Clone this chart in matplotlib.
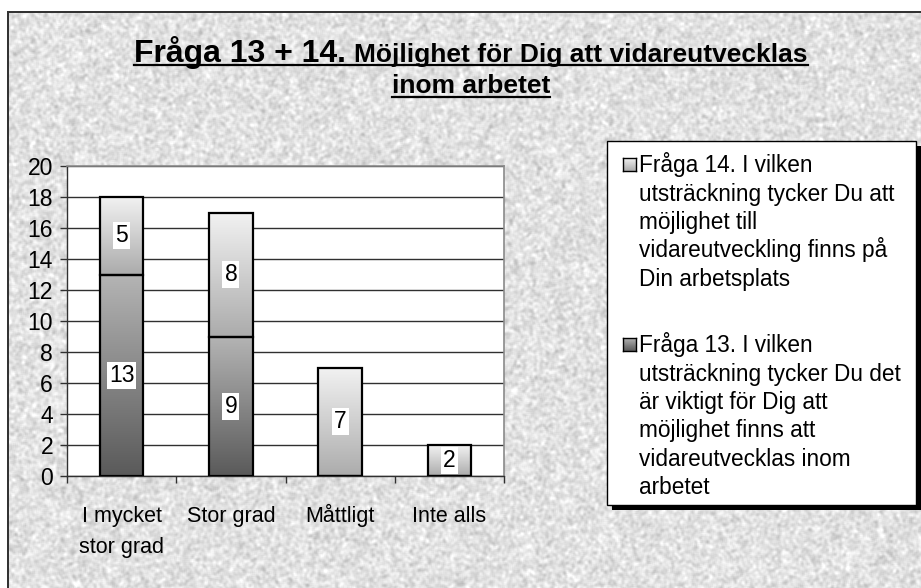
import numpy as np
import matplotlib
matplotlib.use('Agg')
import matplotlib.pyplot as plt
from matplotlib.patches import Rectangle
from matplotlib.lines import Line2D
from matplotlib.colors import LinearSegmentedColormap
from matplotlib.transforms import blended_transform_factory

#### data ####
categories = ['I mycket\nstor grad', 'Stor grad', 'Måttligt', 'Inte alls']
fraga13 = [13, 9, 0, 0]
fraga14 = [5, 8, 7, 2]
yticks = list(range(0, 21, 2))

title_a = 'Fråga 13 + 14.'
title_b = 'Möjlighet för Dig att vidareutvecklas'
title_c = 'inom arbetet'
legend_14 = ['Fråga 14. I vilken', 'utsträckning tycker Du att', 'möjlighet till',
             'vidareutveckling finns på', 'Din arbetsplats']
legend_13 = ['Fråga 13. I vilken', 'utsträckning tycker Du det', 'är viktigt för Dig att',
             'möjlighet finns att', 'vidareutvecklas inom', 'arbetet']
#### #### ####

W, H = 921, 588
plt.rcParams['font.family'] = ['Liberation Sans', 'DejaVu Sans']


def px(x, y):
    # pixel (from top-left) -> figure fraction
    return x / W, 1 - y / H


fig = plt.figure(figsize=(W / 100, H / 100), dpi=100)

# granite-like background with a dark frame line
rng = np.random.default_rng(3)
noise = rng.normal(0, 1, (H, W))
for _ in range(2):
    noise = (np.roll(noise, 1, 0) + noise + np.roll(noise, -1, 0)) / 3
    noise = (np.roll(noise, 1, 1) + noise + np.roll(noise, -1, 1)) / 3
tex = np.clip(0.885 + 0.04 * noise / noise.std(), 0.74, 1.0)
bg = np.ones((H, W))
bg[12:, 8:] = tex[12:, 8:]
bg[11:13, 7:] = 0.2
bg[11:, 7:9] = 0.2
fig.figimage(np.dstack([bg] * 3), 0, 0, origin='upper', zorder=-1)

# plot area
ax_top, ax_bot = 166, 476
x0, y0 = px(67, ax_bot)
x1, y1 = px(504, ax_top)
ax = fig.add_axes([x0, y0, x1 - x0, y1 - y0])
ax.set_facecolor('white')

x = np.arange(len(categories))
cmap13 = LinearSegmentedColormap.from_list('q13', ['#5a5a5a', '#b4b4b4'])
cmap14 = LinearSegmentedColormap.from_list('q14', ['#acacac', '#f2f2f2'])
grad = np.linspace(0, 1, 128).reshape(-1, 1)

bars13 = ax.bar(x, fraga13, width=0.4, fill=False, edgecolor='black', lw=1.6, zorder=4)
bars14 = ax.bar(x, fraga14, bottom=fraga13, width=0.4, fill=False,
                edgecolor='black', lw=1.6, zorder=4)

for bars, cmap in ((bars13, cmap13), (bars14, cmap14)):
    for r in bars:
        if r.get_height() == 0:
            continue
        bx, by = r.get_x(), r.get_y()
        ax.imshow(grad, cmap=cmap, origin='lower', aspect='auto', zorder=3,
                  interpolation='bilinear',
                  extent=[bx, bx + r.get_width(), by, by + r.get_height()])

# value labels in white boxes
for bars, vals in ((bars13, fraga13), (bars14, fraga14)):
    for r, v in zip(bars, vals):
        if v == 0:
            continue
        ax.text(r.get_x() + r.get_width() / 2, r.get_y() + r.get_height() / 2, str(v),
                ha='center', va='center', fontsize=16.5, zorder=6,
                bbox=dict(facecolor='white', edgecolor='none', pad=1.5))

ax.set_xlim(-0.5, 3.5)
ax.set_ylim(0, 20)
ax.set_yticks(yticks)
ax.yaxis.grid(True, color='#303030', lw=1)
ax.set_axisbelow(True)

ax.set_xticks(x)
ax.set_xticks(np.arange(-0.5, 4, 1), minor=True)
ax.tick_params(axis='x', which='major', length=0, labelbottom=False)
ax.tick_params(axis='x', which='minor', length=5, width=1, color='#303030', direction='out')
ax.tick_params(axis='y', length=5, width=1, color='#303030', pad=5, labelsize=16.5)

# category labels, every line on a shared baseline
blend = blended_transform_factory(ax.transData, ax.transAxes)
ax_h = ax_bot - ax_top
for xi, cat in zip(x, categories):
    for i, line in enumerate(cat.split('\n')):
        yb = -(522 - ax_bot + i * 31) / ax_h
        ax.text(xi, yb, line, transform=blend, ha='center', va='baseline',
                fontsize=15.5, clip_on=False)

for s in ('left', 'bottom'):
    ax.spines[s].set_color('#303030')
    ax.spines[s].set_linewidth(1)
for s in ('top', 'right'):
    ax.spines[s].set_color('#8a8a8a')
    ax.spines[s].set_linewidth(1.2)

# title, two sizes, bold and underlined
rend = fig.canvas.get_renderer()
ta = fig.text(0, 0, title_a, fontsize=23, fontweight='bold', va='baseline')
tb = fig.text(0, 0, title_b, fontsize=19, fontweight='bold', va='baseline')
tc = fig.text(0, 0, title_c, fontsize=19, fontweight='bold', va='baseline')
wa = ta.get_window_extent(rend).width
wb = tb.get_window_extent(rend).width
wc = tc.get_window_extent(rend).width
gap = 8
cx = 471
start = cx - (wa + gap + wb) / 2
ta.set_position(px(start, 62))
tb.set_position(px(start + wa + gap, 62))
tc.set_position(px(cx - wc / 2, 93))
for (ux0, ux1, uy) in ((start, start + wa + gap + wb, 64.5), (cx - wc / 2, cx + wc / 2, 96.5)):
    fig.add_artist(Line2D([ux0 / W, ux1 / W], [1 - uy / H, 1 - uy / H],
                          color='black', lw=1.6, transform=fig.transFigure))

# legend box with shadow
lx0, ly0, lx1, ly1 = 607, 141, 916, 505
sh = 5
fig.add_artist(Rectangle(px(lx0 + sh, ly1 + sh), (lx1 - lx0) / W, (ly1 - ly0) / H,
                         transform=fig.transFigure, facecolor='black', edgecolor='none', zorder=2))
fig.add_artist(Rectangle(px(lx0, ly1), (lx1 - lx0) / W, (ly1 - ly0) / H,
                         transform=fig.transFigure, facecolor='white', edgecolor='black',
                         lw=1, zorder=3))

line_h = 28.5
for base, cmap, lines in ((172, cmap14, legend_14), (352, cmap13, legend_13)):
    hx0, hy0 = px(623, base - 1)
    hax = fig.add_axes([hx0, hy0, 13 / W, 13 / H], zorder=4)
    hax.imshow(grad, cmap=cmap, origin='lower', aspect='auto', extent=[0, 1, 0, 1])
    hax.set_xticks([])
    hax.set_yticks([])
    for s in hax.spines.values():
        s.set_color('black')
        s.set_linewidth(1)
    for i, line in enumerate(lines):
        tx, ty = px(639, base + i * line_h)
        fig.text(tx, ty, line, fontsize=16.3, va='baseline', ha='left', zorder=5)

fig.savefig('out.png', dpi=100)
